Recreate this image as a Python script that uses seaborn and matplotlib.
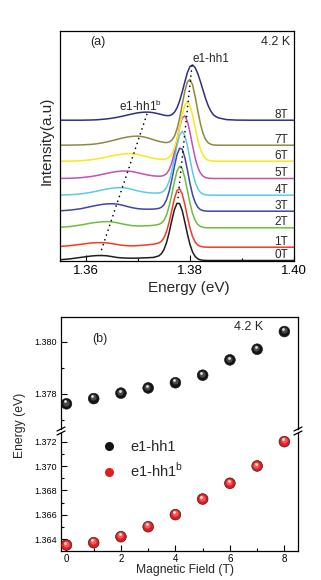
import matplotlib
matplotlib.use("Agg")
import matplotlib.pyplot as plt
import pandas as pd
import seaborn as sns
from matplotlib.lines import Line2D
from matplotlib.ticker import FixedLocator
from matplotlib.transforms import offset_copy

sns.set_theme(style="ticks")
plt.rcParams['font.family'] = ['Liberation Sans', 'DejaVu Sans']
plt.rcParams['mathtext.fontset'] = 'custom'
plt.rcParams['mathtext.rm'] = 'Liberation Sans'
plt.rcParams['axes.edgecolor'] = 'black'
plt.rcParams['xtick.color'] = 'black'
plt.rcParams['ytick.color'] = 'black'

# ---------------- data: panel (a) magneto-PL spectra ----------------
energy = [1.355, 1.357, 1.359, 1.361, 1.362, 1.363, 1.364, 1.365, 1.366, 1.367,
          1.368, 1.369, 1.370, 1.371, 1.372, 1.373, 1.374, 1.3745, 1.375, 1.3755,
          1.376, 1.3765, 1.377, 1.3775, 1.378, 1.3785, 1.379, 1.3795, 1.380, 1.3805,
          1.381, 1.3815, 1.382, 1.3825, 1.383, 1.3835, 1.384, 1.3845, 1.385, 1.3855,
          1.387, 1.389, 1.392, 1.396, 1.400]

fields = ['0T', '1T', '2T', '3T', '4T', '5T', '6T', '7T', '8T']

int_0T = [0.7, 1.7, 3.1, 4.5, 4.9, 5.0, 4.7, 3.9, 3.0, 2.6, 2.4, 2.3, 2.4, 2.6, 2.8, 3.1, 4.6,
          6.8, 11.0, 18.1, 28.2, 40.0, 50.8, 57.2, 56.9, 50.0, 38.7, 26.5, 15.9, 8.4, 4.0, 1.7,
          0.6, 0.2, 0.1, 0, 0, 0, 0, 0, 0, 0, 0, 0, 0]
int_1T = [0.7, 1.6, 2.9, 4.2, 4.5, 4.6, 4.3, 3.6, 2.7, 1.9, 1.5, 1.3, 1.6, 2.0, 2.5, 3.0, 4.2,
          5.9, 9.5, 15.8, 25.3, 37.0, 48.5, 56.7, 58.5, 53.3, 42.9, 30.4, 19.1, 10.5, 5.1, 2.2,
          0.9, 0.3, 0.1, 0, 0, 0, 0, 0, 0, 0, 0, 0, 0]
int_2T = [0.5, 1.3, 2.8, 4.7, 5.5, 6.0, 6.2, 5.9, 5.0, 3.9, 2.9, 2.1, 1.8, 1.9, 2.1, 2.5, 3.4,
          4.7, 7.6, 13.0, 21.8, 33.4, 46.1, 56.7, 61.6, 59.1, 50.0, 37.3, 24.5, 14.2, 7.3, 3.3,
          1.4, 0.5, 0.1, 0, 0, 0, 0, 0, 0, 0, 0, 0, 0]
int_3T = [0.4, 1.1, 2.5, 4.7, 5.8, 6.7, 7.3, 7.5, 7.1, 6.0, 4.6, 3.4, 2.5, 2.1, 2.0, 2.1, 2.8,
          3.9, 6.5, 11.6, 19.9, 31.5, 44.8, 56.4, 63.0, 62.0, 53.8, 41.2, 27.7, 16.4, 8.7, 4.0,
          1.6, 0.6, 0.2, 0, 0, 0, 0, 0, 0, 0, 0, 0, 0]
int_4T = [0.1, 0.5, 1.3, 2.9, 4.0, 5.1, 6.2, 7.0, 7.5, 7.5, 6.8, 5.6, 4.3, 3.2, 2.5, 2.1, 2.2,
          2.8, 4.4, 7.9, 14.2, 24.0, 36.7, 50.0, 60.2, 63.9, 59.9, 49.5, 35.9, 23.0, 13.0, 6.5,
          2.9, 1.1, 0.4, 0.1, 0, 0, 0, 0, 0, 0, 0, 0, 0]
int_5T = [0.1, 0.2, 0.8, 2.0, 2.9, 4.0, 5.1, 6.2, 7.0, 7.5, 7.5, 6.8, 5.7, 4.5, 3.4, 2.6, 2.3,
          2.4, 3.1, 4.9, 8.8, 15.7, 26.0, 38.8, 51.6, 60.5, 62.7, 57.3, 46.1, 32.7, 20.4, 11.2,
          5.5, 2.4, 0.9, 0.3, 0.1, 0, 0, 0, 0, 0, 0, 0, 0]
int_6T = [0.0, 0.1, 0.5, 1.4, 2.2, 3.2, 4.3, 5.4, 6.4, 7.2, 7.6, 7.5, 6.7, 5.4, 4.1, 2.9, 2.1,
          2.0, 2.0, 2.4, 3.9, 7.1, 13.0, 22.1, 33.9, 46.3, 55.8, 59.4, 55.6, 46.0, 33.4, 21.3,
          12.1, 6.0, 2.6, 1.0, 0.3, 0.1, 0, 0, 0, 0, 0, 0, 0]
int_7T = [0.0, 0.1, 0.3, 0.8, 1.4, 2.2, 3.3, 4.5, 5.9, 7.2, 8.2, 8.9, 9.1, 8.4, 7.1, 5.4, 3.9,
          3.3, 2.8, 2.6, 3.2, 4.9, 8.9, 16.1, 26.9, 40.6, 54.0, 63.5, 65.8, 60.2, 48.4, 34.3,
          21.5, 11.8, 5.7, 2.4, 0.9, 0.3, 0.1, 0, 0, 0, 0, 0, 0]
int_8T = [0.0, 0.0, 0.0, 0.2, 0.4, 0.8, 1.3, 2.0, 2.9, 4.0, 5.2, 6.4, 7.4, 8.0, 8.1, 7.5, 6.3,
          5.7, 5.0, 4.6, 4.6, 5.5, 7.9, 12.3, 19.2, 28.2, 38.3, 47.6, 53.7, 55.2, 52.5, 46.6,
          38.7, 30.0, 21.6, 14.5, 9.1, 5.4, 3.5, 2.3, 0.6, 0.1, 0, 0, 0]

spectra = [int_0T, int_1T, int_2T, int_3T, int_4T, int_5T, int_6T, int_7T, int_8T]
offsets = [0, 13.3, 32.7, 49.3, 65.3, 82.0, 99.3, 115.3, 140.3]
colors = ['#1e1e1e', '#f23a24', '#6cbf3c', '#3a48a6', '#5ccbe6', '#c64fb0',
          '#f7e81a', '#8c8a40', '#2f2f85']

# dotted guide lines (peak tracks)
guide_main_E = [1.3777, 1.3804]
guide_main_I = [63.0, 196.0]
guide_side_E = [1.3630, 1.3717]
guide_side_I = [11.0, 146.0]

# ---------------- data: panel (b) peak energies ----------------
field_T = [0, 1, 2, 3, 4, 5, 6, 7, 8]
e1hh1 = [1.37762, 1.37782, 1.37803, 1.37823, 1.37843, 1.37872, 1.37931, 1.37972, 1.38040]
e1hh1b = [1.36353, 1.36372, 1.36421, 1.36503, 1.36602, 1.36730, 1.36859, 1.37001, 1.37200]

W, H = 321, 580
fig = plt.figure(figsize=(W / 100, H / 100), dpi=100)
fig.patch.set_facecolor('white')

def fx(px):
    return px / W

def fy(py):
    return 1 - py / H

# ================= panel (a) =================
axA = fig.add_axes([fx(60), fy(261), fx(294) - fx(60), (261 - 31) / H])
rows = []
for lab, vals, off in zip(fields, spectra, offsets):
    for e, v in zip(energy, vals):
        rows.append({'energy': e, 'intensity': v + off, 'field': lab})
df = pd.DataFrame(rows)
sns.lineplot(data=df, x='energy', y='intensity', hue='field', hue_order=fields,
             palette=dict(zip(fields, colors)), estimator=None, sort=False,
             linewidth=1.1, legend=False, ax=axA)
for gx, gy in ((guide_main_E, guide_main_I), (guide_side_E, guide_side_I)):
    axA.plot(gx, gy, color='black', lw=1.2, ls=(0, (0.05, 3.0)),
             dash_capstyle='round', zorder=5)

axA.set_xlim(1.355, 1.400)
axA.set_ylim(-0.5, 229.5)
axA.set_yticks([])
axA.xaxis.set_major_locator(FixedLocator([1.36, 1.38, 1.40]))
axA.xaxis.set_minor_locator(FixedLocator([1.37, 1.39]))
axA.set_xticklabels(['1.36', '1.38', '1.40'])
axA.tick_params(axis='x', which='major', direction='in', length=4, width=0.8,
                labelsize=9.5, pad=3)
axA.tick_params(axis='x', which='minor', direction='in', length=2, width=0.8)
for sp in axA.spines.values():
    sp.set_linewidth(0.9)
    sp.set_color('black')
axA.set_xlabel('')
axA.set_ylabel('')

for lab, off in zip(fields, offsets):
    axA.text(1.39885, off + 5.5, lab, ha='right', va='center', fontsize=8.5)
axA.text(0.128, 0.952, '(a)', transform=axA.transAxes, ha='left', va='center', fontsize=9)
axA.text(0.983, 0.952, '4.2 K', transform=axA.transAxes, ha='right', va='center', fontsize=9)
axA.text(1.38052, 201, 'e1-hh1', ha='left', va='center', fontsize=8.5)
axA.text(1.36635, 153.7, 'e1-hh1$^{\\mathregular{b}}$', ha='left', va='center', fontsize=8.5)

fig.text(fx(189), fy(288), 'Energy (eV)', ha='center', va='center', fontsize=11)
fig.text(fx(47), fy(141), 'Intensity(a.u)', ha='center', va='center', rotation=90, fontsize=11)

# ================= panel (b) : broken axis =================
axU = fig.add_axes([fx(61), fy(429), fx(298) - fx(61), (429 - 317) / H])
axL = fig.add_axes([fx(61), fy(551), fx(298) - fx(61), (551 - 433) / H])

dfb = pd.DataFrame({'field': field_T * 2,
                    'energy': e1hh1 + e1hh1b,
                    'series': ['e1-hh1'] * 9 + ['e1-hh1b'] * 9})
base_col = {'e1-hh1': '#141414', 'e1-hh1b': '#e01e1e'}
mid_col = {'e1-hh1': '#4a4a4a', 'e1-hh1b': '#f45a5a'}
hi_col = {'e1-hh1': '#e0e0e0', 'e1-hh1b': '#ffe0e0'}

for ax in (axU, axL):
    sns.scatterplot(data=dfb, x='field', y='energy', hue='series', palette=base_col,
                    s=60, linewidth=0.4, edgecolor='#101010', legend=False, ax=ax, zorder=3)
    tr1 = offset_copy(ax.transData, fig=fig, x=-0.5, y=0.9, units='points')
    tr2 = offset_copy(ax.transData, fig=fig, x=-0.9, y=1.7, units='points')
    for key, sub in dfb.groupby('series'):
        ax.scatter(sub['field'], sub['energy'], s=20, color=mid_col[key], linewidths=0,
                   transform=tr1, zorder=4)
        ax.scatter(sub['field'], sub['energy'], s=4, color=hi_col[key], linewidths=0,
                   transform=tr2, zorder=5)
    ax.set_xlim(-0.2, 8.5)
    ax.set_xlabel('')
    ax.set_ylabel('')
    for sp in ax.spines.values():
        sp.set_linewidth(0.9)
        sp.set_color('black')

axU.set_ylim(1.37665, 1.38096)
axU.spines['bottom'].set_visible(False)
axU.set_xticks([])
axU.yaxis.set_major_locator(FixedLocator([1.378, 1.380]))
axU.yaxis.set_minor_locator(FixedLocator([1.377, 1.379]))
axU.set_yticklabels(['1.378', '1.380'])

axL.set_ylim(1.36304, 1.37271)
axL.spines['top'].set_visible(False)
axL.yaxis.set_major_locator(FixedLocator([1.364, 1.366, 1.368, 1.370, 1.372]))
axL.yaxis.set_minor_locator(FixedLocator([1.365, 1.367, 1.369, 1.371]))
axL.set_yticklabels(['1.364', '1.366', '1.368', '1.370', '1.372'])
axL.xaxis.set_major_locator(FixedLocator([0, 2, 4, 6, 8]))
axL.xaxis.set_minor_locator(FixedLocator([1, 3, 5, 7]))
axL.set_xticklabels(['0', '2', '4', '6', '8'])

for ax in (axU, axL):
    ax.tick_params(axis='y', which='major', direction='in', length=4, width=0.8,
                   labelsize=6.5, pad=3)
    ax.tick_params(axis='y', which='minor', direction='in', length=2, width=0.8)
axL.tick_params(axis='x', which='major', direction='in', length=4, width=0.8,
                labelsize=7, pad=2)
axL.tick_params(axis='x', which='minor', direction='in', length=2, width=0.8)

# break marks
for xpx in (61, 298):
    for ypx in (429, 433):
        fig.add_artist(Line2D([fx(xpx - 4), fx(xpx + 4)], [fy(ypx + 2), fy(ypx - 2)],
                              color='black', lw=0.9, transform=fig.transFigure))

axU.text(0.131, 0.80, '(b)', transform=axU.transAxes, ha='left', va='center', fontsize=9)
axU.text(0.852, 0.915, '4.2 K', transform=axU.transAxes, ha='right', va='center', fontsize=9)

handles = [Line2D([], [], ls='', marker='o', markersize=5.5, markerfacecolor='#141414',
                  markeredgecolor='#141414'),
           Line2D([], [], ls='', marker='o', markersize=5.5, markerfacecolor='#e01e1e',
                  markeredgecolor='#e01e1e')]
axL.legend(handles, ['e1-hh1', 'e1-hh1$^{\\mathregular{b}}$'], loc='upper left',
           bbox_to_anchor=(0.17, 0.94), frameon=False, fontsize=10.5, borderpad=0,
           borderaxespad=0, handlelength=1.0, handletextpad=1.0, labelspacing=0.5)

fig.text(fx(185), fy(570), 'Magnetic Field (T)', ha='center', va='center', fontsize=8.7)
fig.text(fx(20), fy(425), 'Energy (eV)', ha='center', va='center', rotation=90, fontsize=8.7)

fig.savefig('out.png', dpi=100, facecolor='white')
